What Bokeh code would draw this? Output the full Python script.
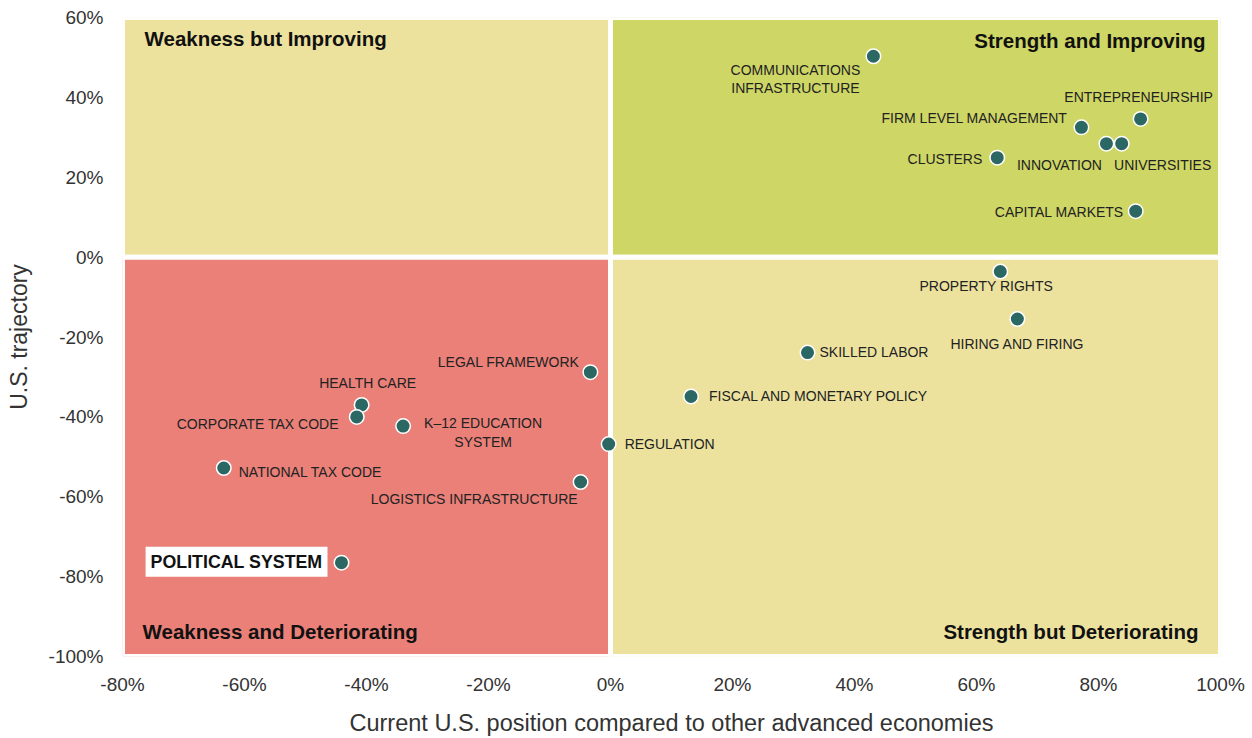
from bokeh.plotting import figure
from bokeh.models import ColumnDataSource, PrintfTickFormatter, FixedTicker, Label, Range1d
from bokeh.core.properties import value
from bokeh.embed import file_html
from bokeh.resources import INLINE

# ---------------- data ----------------
names = [
    "COMMUNICATIONS INFRASTRUCTURE", "ENTREPRENEURSHIP", "FIRM LEVEL MANAGEMENT",
    "INNOVATION", "UNIVERSITIES", "CLUSTERS", "CAPITAL MARKETS",
    "PROPERTY RIGHTS", "HIRING AND FIRING", "SKILLED LABOR",
    "FISCAL AND MONETARY POLICY", "REGULATION", "LEGAL FRAMEWORK",
    "HEALTH CARE", "CORPORATE TAX CODE", "K–12 EDUCATION SYSTEM",
    "NATIONAL TAX CODE", "LOGISTICS INFRASTRUCTURE", "POLITICAL SYSTEM",
]
position = [43.1, 86.9, 77.2, 81.3, 83.8, 63.4, 86.1,
            63.9, 66.7, 32.3, 13.2, -0.3, -3.3,
            -40.8, -41.6, -34.0, -63.4, -4.9, -44.1]
trajectory = [50.3, 34.6, 32.5, 28.4, 28.4, 24.9, 11.5,
              -3.6, -15.5, -23.9, -34.9, -46.8, -28.8,
              -37.0, -40.0, -42.3, -52.8, -56.3, -76.5]

x_ticks = [-80, -60, -40, -20, 0, 20, 40, 60, 80, 100]
y_ticks = [-100, -80, -60, -40, -20, 0, 20, 40, 60]
X_MIN, X_MID, X_MAX = -80, 0, 100
Y_MIN, Y_MID, Y_MAX = -100, 0, 60

quadrant_titles = ["Weakness but Improving", "Strength and Improving",
                   "Weakness and Deteriorating", "Strength but Deteriorating"]

# ---------------- styles / layout ----------------
RED = "#EA8078"
GREEN = "#CED666"
YELLOW = "#ECE29E"
DOT = "#2B6864"
FONT = "Liberation Sans"

# label layout: (point index, text line, align, dx, dy) in screen px (dy down)
label_layout = [
    (0, "COMMUNICATIONS", "center", -78, 14),
    (0, "INFRASTRUCTURE", "center", -78, 32),
    (1, "ENTREPRENEURSHIP", "center", -2, -22),
    (2, "FIRM LEVEL MANAGEMENT", "right", -14, -9),
    (3, "INNOVATION", "center", -47, 21),
    (4, "UNIVERSITIES", "center", 41, 21),
    (5, "CLUSTERS", "right", -15, 1),
    (6, "CAPITAL MARKETS", "right", -12, 1),
    (7, "PROPERTY RIGHTS", "center", -14, 14),
    (8, "HIRING AND FIRING", "center", 0, 25),
    (9, "SKILLED LABOR", "left", 12, -1),
    (10, "FISCAL AND MONETARY POLICY", "left", 18, -1),
    (11, "REGULATION", "left", 16, 0),
    (12, "LEGAL FRAMEWORK", "right", -11, -10),
    (13, "HEALTH CARE", "center", 6, -22),
    (14, "CORPORATE TAX CODE", "right", -18, 7),
    (15, "K–12 EDUCATION", "center", 80, -3),
    (15, "SYSTEM", "center", 80, 16),
    (16, "NATIONAL TAX CODE", "left", 15, 4),
    (17, "LOGISTICS INFRASTRUCTURE", "right", -3, 17),
]
HIGHLIGHT = 18

p = figure(width=1252, height=738,
           x_range=Range1d(X_MIN, X_MAX), y_range=Range1d(Y_MIN, Y_MAX),
           output_backend="svg", toolbar_location=None,
           min_border_left=122, min_border_right=32,
           min_border_top=17, min_border_bottom=81,
           outline_line_color=None)
p.grid.visible = False

# quadrants
p.quad(left=[X_MIN, X_MID, X_MIN, X_MID], right=[X_MID, X_MAX, X_MID, X_MAX],
       bottom=[Y_MID, Y_MID, Y_MIN, Y_MIN], top=[Y_MAX, Y_MAX, Y_MID, Y_MID],
       fill_color=[YELLOW, GREEN, RED, YELLOW], line_color="white", line_width=5)

# quadrant titles
tsrc = ColumnDataSource(dict(
    x=[X_MIN, X_MAX, X_MIN, X_MAX], y=[Y_MAX, Y_MAX, Y_MIN, Y_MIN],
    text=quadrant_titles, align=["left", "right", "left", "right"],
    dx=[22, -15, 20, -22], dy=[21, 23, -25, -25]))
p.text(x="x", y="y", text="text", source=tsrc, text_align="align",
       x_offset="dx", y_offset="dy", text_baseline="middle",
       text_font=value(FONT), text_font_size="20.5px", text_font_style="bold",
       text_color="#111111")

# points
p.scatter(position, trajectory, size=14.5, fill_color=DOT, line_color="white",
          line_width=1.5)

# point labels
lsrc = ColumnDataSource(dict(
    x=[position[i] for i, *_ in label_layout],
    y=[trajectory[i] for i, *_ in label_layout],
    text=[t for _, t, *_ in label_layout],
    align=[a for _, _, a, _, _ in label_layout],
    dx=[d for *_, d, _ in label_layout],
    dy=[d for *_, d in label_layout]))
p.text(x="x", y="y", text="text", source=lsrc, text_align="align",
       x_offset="dx", y_offset="dy", text_baseline="middle",
       text_font=value(FONT), text_font_size="14px", text_color="#222222")

p.add_layout(Label(x=position[HIGHLIGHT], y=trajectory[HIGHLIGHT],
                   text=names[HIGHLIGHT], x_offset=-14, y_offset=1,
                   text_align="right", text_baseline="middle",
                   text_font=FONT, text_font_size="17.8px", text_font_style="bold",
                   text_color="#111111", background_fill_color="white",
                   padding=5))

# axes
p.xaxis.ticker = FixedTicker(ticks=x_ticks)
p.yaxis.ticker = FixedTicker(ticks=y_ticks)
for ax in (p.xaxis[0], p.yaxis[0]):
    ax.formatter = PrintfTickFormatter(format="%d%%")
    ax.axis_line_color = None
    ax.major_tick_line_color = None
    ax.minor_tick_line_color = None
    ax.major_tick_out = 0
    ax.major_tick_in = 0
    ax.major_label_text_font = FONT
    ax.major_label_text_font_size = "19px"
    ax.major_label_text_color = "#333333"
    ax.axis_label_text_font = FONT
    ax.axis_label_text_font_style = "normal"
    ax.axis_label_text_color = "#333333"

p.xaxis.axis_label = "Current U.S. position compared to other advanced economies"
p.yaxis.axis_label = "U.S. trajectory"
p.xaxis.axis_label_text_font_size = "23.5px"
p.yaxis.axis_label_text_font_size = "23px"
p.xaxis.major_label_standoff = 17
p.xaxis.axis_label_standoff = 12
p.yaxis.major_label_standoff = 19
p.yaxis.axis_label_standoff = 14

open("out.html", "w").write(file_html(p, INLINE))
